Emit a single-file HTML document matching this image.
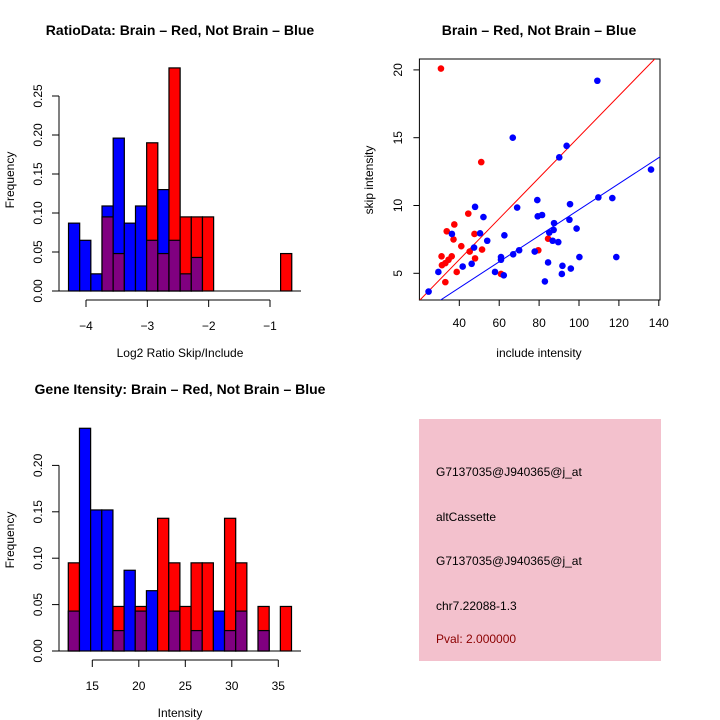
<!DOCTYPE html>
<html><head><meta charset="utf-8"><style>
body{margin:0;background:#fff;}
svg{display:block;font-family:"Liberation Sans",sans-serif;}
</style></head><body>
<svg id="s" width="720" height="720" viewBox="0 0 720 720" xmlns="http://www.w3.org/2000/svg">
<rect width="720" height="720" fill="#fff"/>
<text x="180" y="35" text-anchor="middle" font-size="14" font-weight="bold">RatioData: Brain – Red, Not Brain – Blue</text>
<text x="539" y="35" text-anchor="middle" font-size="14" font-weight="bold">Brain – Red, Not Brain – Blue</text>
<text x="180" y="394" text-anchor="middle" font-size="14" font-weight="bold">Gene Itensity: Brain – Red, Not Brain – Blue</text>
<text x="180" y="357" text-anchor="middle" font-size="12">Log2 Ratio Skip/Include</text>
<text x="180" y="717" text-anchor="middle" font-size="12">Intensity</text>
<text x="539" y="357" text-anchor="middle" font-size="12">include intensity</text>
<text transform="translate(14,180) rotate(-90)" text-anchor="middle" font-size="12">Frequency</text>
<text transform="translate(14,540) rotate(-90)" text-anchor="middle" font-size="12">Frequency</text>
<text transform="translate(373,180) rotate(-90)" text-anchor="middle" font-size="12">skip intensity</text>
<g id="g1"></g>
<g id="g2"></g>
<g id="g3"></g>
<g>
<rect x="419" y="419" width="242" height="242" fill="#f3c1cd"/>
<text x="436" y="476" font-size="12">G7137035@J940365@j_at</text>
<text x="436" y="521" font-size="12">altCassette</text>
<text x="436" y="565" font-size="12">G7137035@J940365@j_at</text>
<text x="436" y="610" font-size="12">chr7.22088-1.3</text>
<text x="436" y="643" font-size="12" fill="#8b0000">Pval: 2.000000</text>
</g>
</svg>
<script>
// Ratio histogram data
const ratioBinStart = -4.285, ratioBinWidth = 0.182;
const ratioBlue = [0.087,0.065,0.022,0.109,0.196,0.087,0.109,0.065,0.130,0.065,0.022,0.043,0,0,0,0,0,0,0,0];
const ratioRed  = [0,0,0,0.095,0.048,0,0,0.190,0.048,0.286,0.095,0.095,0.095,0,0,0,0,0,0,0.048];
const ratioXTicks = [-4,-3,-2,-1];
const ratioYTicks = [0,0.05,0.10,0.15,0.20,0.25];
const ratioYLabels = ["0.00","0.05","0.10","0.15","0.20","0.25"];
// Intensity histogram data
const intBinStart = 12.42, intBinWidth = 1.2;
const intBlue = [0.043,0.24,0.152,0.152,0.022,0.087,0.043,0.065,0,0.043,0,0.022,0,0.043,0.022,0.043,0,0.022,0,0];
const intRed  = [0.095,0,0,0,0.048,0,0.048,0,0.143,0.095,0.048,0.095,0.095,0,0.143,0.095,0,0.048,0,0.048];
const intXTicks = [15,20,25,30,35];
const intYTicks = [0,0.05,0.10,0.15,0.20];
const intYLabels = ["0.00","0.05","0.10","0.15","0.20"];
// Scatter data
const redX = [30.8,51.0,44.5,37.5,33.7,37.1,41.0,47.6,51.4,45.2,47.9,36.2,31.1,34.6,33.0,31.3,38.7,33.0,60.9,79.6,84.5];
const redY = [20.1,13.2,9.4,8.6,8.1,7.5,7.0,7.9,6.75,6.6,6.1,6.25,6.25,6.0,5.75,5.6,5.1,4.35,4.95,6.7,7.55];
const blueX = [109.2,66.8,93.8,90.1,136.1,109.7,116.7,79.1,95.5,47.9,69.0,81.5,79.3,52.1,95.2,87.5,87.3,85.1,36.3,50.4,62.6,54.0,86.8,89.6,98.8,47.4,70.0,67.0,77.8,60.9,60.9,100.2,118.7,41.7,46.2,84.5,91.7,95.9,29.5,57.9,62.3,91.4,82.9,24.6];
const blueY = [19.2,15.0,14.4,13.55,12.65,10.6,10.55,10.4,10.1,9.9,9.85,9.3,9.2,9.15,8.95,8.7,8.2,8.0,7.9,7.95,7.8,7.4,7.4,7.3,8.3,6.9,6.7,6.4,6.6,6.2,6.0,6.2,6.2,5.5,5.7,5.8,5.55,5.35,5.1,5.1,4.85,4.95,4.4,3.65];
const redFit = [0.151,-0.03];
const blueFit = [0.096,0.09];
const scXTicks = [40,60,80,100,120,140];
const scYTicks = [5,10,15,20];

const NS="http://www.w3.org/2000/svg";
function mk(parent,tag,attrs){const e=document.createElementNS(NS,tag);for(const k in attrs)e.setAttribute(k,attrs[k]);parent.appendChild(e);return e;}

function hist(g,start,w,blue,red,xt,yt,yl,sx,sy,baseY){
  // baseline
  const bl=mk(g,'line',{x1:52,x2:301,y1:baseY,y2:baseY,stroke:'#000','stroke-width':1});
  
  
  for(let i=0;i<blue.length;i++){
    const x0=sx(start+i*w), x1=sx(start+(i+1)*w);
    const b=blue[i], r=red[i];
    const mx=Math.max(b,r), mn=Math.min(b,r);
    if(mx>0){
      const c=mk(g,'rect',{x:x0,y:sy(mx),width:x1-x0,height:sy(0)-sy(mx),fill:r>=b?'#ff0000':'#0000ff',stroke:'#000','stroke-width':1.2});
      
      
    }
    if(mn>0){
      const p=mk(g,'rect',{x:x0,y:sy(mn),width:x1-x0,height:sy(0)-sy(mn),fill:'#800080',stroke:'#000','stroke-width':1.2});
      
      
    }
  }
  // y axis
  const ya=mk(g,'line',{x1:59,x2:59,y1:sy(yt[0]),y2:sy(yt[yt.length-1]),stroke:'#000'});
  
  
  yt.forEach((v,i)=>{
    mk(g,'line',{x1:52,x2:59,y1:sy(v),y2:sy(v),stroke:'#000'});
    const t=mk(g,'text',{transform:`translate(42,${sy(v)}) rotate(-90)`,'text-anchor':'middle','font-size':12});
    t.textContent=yl[i];
    
    
  });
  const ay=baseY+9;
  const xa=mk(g,'line',{x1:sx(xt[0]),x2:sx(xt[xt.length-1]),y1:ay,y2:ay,stroke:'#000'});
  
  
  xt.forEach(v=>{
    mk(g,'line',{x1:sx(v),x2:sx(v),y1:ay,y2:ay+7,stroke:'#000'});
    const t=mk(g,'text',{x:sx(v),y:ay+30,'text-anchor':'middle','font-size':12});
    t.textContent=String(v).replace('-','\u2212');
    
    
  });
}
hist(document.getElementById('g1'),ratioBinStart,ratioBinWidth,ratioBlue,ratioRed,ratioXTicks,ratioYTicks,ratioYLabels,
  v=>86+(v+4)*61.33, v=>291-v*780, 291);
hist(document.getElementById('g2'),intBinStart,intBinWidth,intBlue,intRed,intXTicks,intYTicks,intYLabels,
  v=>92.3+(v-15)*9.3, v=>651-v*928, 651);

// scatter
(function(){
  const g=document.getElementById('g3');
  const sx=v=>419.4+(v-20)*1.995, sy=v=>273.3-(v-5)*13.56;
  const L=419.4,R=660,T=59,B=300;
  const box=mk(g,'rect',{x:L,y:T,width:R-L,height:B-T,fill:'none',stroke:'#000'});
  
  
  const cp=mk(g,'clipPath',{id:'cp'});
  mk(cp,'rect',{x:L,y:T,width:R-L,height:B-T});
  function fit(f,col,name){
    const x0=20,x1=141;
    const l=mk(g,'line',{x1:sx(x0),y1:sy(f[0]*x0+f[1]),x2:sx(x1),y2:sy(f[0]*x1+f[1]),stroke:col,'clip-path':'url(#cp)'});
    
    
  }
  fit(redFit,'#ff0000','red-fit-line');
  fit(blueFit,'#0000ff','blue-fit-line');
  redX.forEach((x,i)=>{
    const c=mk(g,'circle',{cx:sx(x),cy:sy(redY[i]),r:3.3,fill:'#ff0000'});
    
    
  });
  blueX.forEach((x,i)=>{
    const c=mk(g,'circle',{cx:sx(x),cy:sy(blueY[i]),r:3.3,fill:'#0000ff'});
    
    
  });
  scXTicks.forEach(v=>{
    mk(g,'line',{x1:sx(v),x2:sx(v),y1:B,y2:B+6,stroke:'#000'});
    const t=mk(g,'text',{x:sx(v),y:B+27,'text-anchor':'middle','font-size':12});
    t.textContent=v;
    
    
  });
  scYTicks.forEach(v=>{
    mk(g,'line',{x1:L-6,x2:L,y1:sy(v),y2:sy(v),stroke:'#000'});
    const t=mk(g,'text',{transform:`translate(402,${sy(v)}) rotate(-90)`,'text-anchor':'middle','font-size':12});
    t.textContent=v;
    
    
  });
})();
</script>
</body></html>
